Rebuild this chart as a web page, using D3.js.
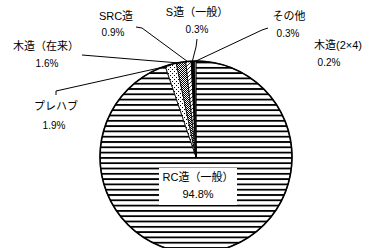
<!DOCTYPE html>
<html>
<head>
<meta charset="utf-8">
<script src="https://cdn.jsdelivr.net/npm/d3@7"></script>
<style>
  body { margin: 0; background: #fff; }
  svg { display: block; }
  text { font-family: "Liberation Sans", Arial, "Noto Sans CJK JP", sans-serif; fill: #000; }
</style>
</head>
<body>
<div id="chart"></div>
<script>
// categories in clockwise order from 12 o'clock
const categories = ["RC造（一般）", "プレハブ", "木造（在来）", "SRC造", "S造（一般）", "その他", "木造(2×4)"];
const shares = [94.8, 1.9, 1.6, 0.9, 0.3, 0.3, 0.2];
const pctLabels = ["94.8%", "1.9%", "1.6%", "0.9%", "0.3%", "0.3%", "0.2%"];

const width = 369, height = 248;
const cx = 196, cy = 157, radius = 96;

const svg = d3.select("#chart").append("svg")
    .attr("width", width)
    .attr("height", height);

// fill patterns
const defs = svg.append("defs");

let p = defs.append("pattern").attr("id", "pStripe")
    .attr("patternUnits", "userSpaceOnUse").attr("width", 8).attr("height", 5.3);
p.append("rect").attr("width", 8).attr("height", 5.3).attr("fill", "#fff");
p.append("rect").attr("y", 0).attr("width", 8).attr("height", 1.8).attr("fill", "#000");

p = defs.append("pattern").attr("id", "pDots")
    .attr("patternUnits", "userSpaceOnUse").attr("width", 4).attr("height", 4);
p.append("rect").attr("width", 4).attr("height", 4).attr("fill", "#fff");
p.append("rect").attr("x", 0).attr("y", 0).attr("width", 1).attr("height", 1).attr("fill", "#000");
p.append("rect").attr("x", 2).attr("y", 2).attr("width", 1).attr("height", 1).attr("fill", "#000");

p = defs.append("pattern").attr("id", "pChecker")
    .attr("patternUnits", "userSpaceOnUse").attr("width", 2).attr("height", 2);
p.append("rect").attr("width", 2).attr("height", 2).attr("fill", "#fff");
p.append("rect").attr("x", 0).attr("y", 0).attr("width", 1).attr("height", 1).attr("fill", "#000");
p.append("rect").attr("x", 1).attr("y", 1).attr("width", 1).attr("height", 1).attr("fill", "#000");

p = defs.append("pattern").attr("id", "pDiag")
    .attr("patternUnits", "userSpaceOnUse").attr("width", 4).attr("height", 4);
p.append("rect").attr("width", 4).attr("height", 4).attr("fill", "#fff");
p.append("path").attr("d", "M0,4 L4,0").attr("stroke", "#000").attr("stroke-width", 0.8);

const fills = ["url(#pStripe)", "url(#pDots)", "url(#pChecker)", "url(#pDiag)", "#000", "#000", "#fff"];

const pie = d3.pie().sort(null).value(d => d.v);
const arcs = pie(categories.map((c, i) => ({name: c, v: shares[i], pct: pctLabels[i], fill: fills[i]})));

const arc = d3.arc().innerRadius(0).outerRadius(radius);

const g = svg.append("g").attr("transform", `translate(${cx},${cy})`);

g.selectAll("path.slice")
    .data(arcs)
    .enter().append("path")
    .attr("class", "slice")
    .attr("d", arc)
    .attr("fill", d => d.data.fill)
    .attr("stroke", "#000")
    .attr("stroke-width", 0.8);

g.append("circle")
    .attr("r", radius)
    .attr("fill", "none")
    .attr("stroke", "#000")
    .attr("stroke-width", 1.6);

// label layout: name centre, percent centre, leader line start points
const labelPos = [
    {x: 198, y: 178, px: 198, py: 195, box: true},
    {x: 56, y: 107, px: 54, py: 126, lead: [[56, 95], [56, 91]]},
    {x: 46, y: 47, px: 47, py: 64, lead: [[82, 55]]},
    {x: 116, y: 17, px: 113, py: 33, lead: [[136, 27], [142, 28]]},
    {x: 197, y: 13, px: 197, py: 30, lead: [[197, 39], [196, 47]]},
    {x: 289, y: 17, px: 288, py: 34, lead: [[268, 28], [262, 30]]},
    {x: 338, y: 46, px: 329, py: 63}
];

const midPoint = (d, r) => {
    const a = (d.startAngle + d.endAngle) / 2;
    return [cx + r * Math.sin(a), cy - r * Math.cos(a)];
};

arcs.forEach((d, i) => {
    const lp = labelPos[i];
    if (lp.lead) {
        const pts = lp.lead.concat([midPoint(d, radius - 1)]);
        svg.append("path")
            .attr("d", d3.line()(pts))
            .attr("fill", "none")
            .attr("stroke", "#000")
            .attr("stroke-width", 1);
    }
    if (lp.box) {
        svg.append("rect")
            .attr("x", 159).attr("y", 168)
            .attr("width", 78).attr("height", 37)
            .attr("fill", "#fff");
    }
    svg.append("text")
        .attr("x", lp.x).attr("y", lp.y)
        .attr("text-anchor", "middle")
        .attr("dominant-baseline", "middle")
        .style("font-size", "11px")
        .text(d.data.name);
    svg.append("text")
        .attr("x", lp.px).attr("y", lp.py)
        .attr("text-anchor", "middle")
        .attr("dominant-baseline", "middle")
        .style("font-size", (lp.box ? 11 : 10) + "px")
        .text(d.data.pct);
});
</script>
</body>
</html>
